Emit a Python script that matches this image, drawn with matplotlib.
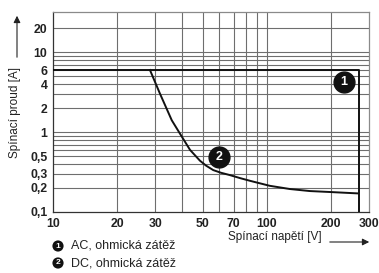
import matplotlib
matplotlib.use("Agg")
import matplotlib.pyplot as plt
from matplotlib.ticker import FixedLocator, NullFormatter

plt.rcParams["font.family"] = ["Liberation Sans", "DejaVu Sans"]

# AC, resistive load: 6 A up to ~268 V
ac_voltage = [10, 268, 268]
ac_current = [6, 6, 0.1]

# DC, resistive load
dc_voltage = [28.4, 31.6, 35.9, 39.2, 43.7, 48.6, 52.0, 56.1, 61.0, 67.1, 74.8, 83.3, 103, 128, 158.6, 197, 266]
dc_current = [6.0, 3.05, 1.41, 0.96, 0.60, 0.44, 0.38, 0.335, 0.31, 0.29, 0.266, 0.246, 0.213, 0.194, 0.183, 0.178, 0.171]

x_ticks = [10, 20, 30, 50, 70, 100, 200, 300]
x_ticklabels = ["10", "20", "30", "50", "70", "100", "200", "300"]
x_grid = [20, 30, 40, 50, 60, 70, 80, 90, 100, 200]
y_ticks = [0.1, 0.2, 0.3, 0.5, 1, 2, 4, 6, 10, 20]
y_ticklabels = ["0,1", "0,2", "0,3", "0,5", "1", "2", "4", "6", "10", "20"]
y_grid = [0.2, 0.3, 0.4, 0.5, 0.6, 0.7, 0.8, 0.9, 1, 2, 3, 4, 5, 6, 7, 8, 9, 10, 20]

labels = ["AC, ohmická zátěž", "DC, ohmická zátěž"]
badge_pos = [(229, 4.2), (60, 0.49)]

fig = plt.figure(figsize=(3.79, 2.73), dpi=100)
ax = fig.add_axes([53 / 379, 1 - 212 / 273, 316 / 379, 200 / 273])
ax.set_xscale("log")
ax.set_yscale("log")
ax.set_xlim(10, 300)
ax.set_ylim(0.1, 32)

for v in x_grid:
    ax.axvline(v, color="#6e6e6e", lw=0.8, zorder=1)
for v in y_grid:
    ax.axhline(v, color="#6e6e6e", lw=0.8, zorder=1)

ax.plot(ac_voltage, ac_current, color="#111111", lw=1.4, zorder=3)
ax.plot(dc_voltage, dc_current, color="#111111", lw=1.4, zorder=3,
        solid_joinstyle="round")

for i, (bx, by) in enumerate(badge_pos):
    ax.plot(bx, by, "o", ms=15, color="#111111", zorder=4)
    ax.text(bx, by, str(i + 1), color="white", fontsize=9, fontweight="bold",
            ha="center", va="center", zorder=5)

ax.xaxis.set_major_locator(FixedLocator(x_ticks))
ax.xaxis.set_minor_locator(FixedLocator([]))
ax.set_xticklabels(x_ticklabels)
ax.xaxis.set_minor_formatter(NullFormatter())
ax.yaxis.set_major_locator(FixedLocator(y_ticks))
ax.yaxis.set_minor_locator(FixedLocator([]))
ax.set_yticklabels(y_ticklabels)
ax.yaxis.set_minor_formatter(NullFormatter())
ax.tick_params(length=0, labelsize=8.8, pad=4)
for lab in ax.get_xticklabels() + ax.get_yticklabels():
    lab.set_fontweight("bold")
    lab.set_color("#222222")

for side in ["left", "bottom"]:
    ax.spines[side].set_color("#333333")
    ax.spines[side].set_linewidth(0.9)
for side in ["top", "right"]:
    ax.spines[side].set_color("#8a8a8a")
    ax.spines[side].set_linewidth(0.9)

# axis titles with arrows
fig.text(15 / 379, 1 - 112 / 273, "Spínací proud [A]", rotation=90, fontsize=8.5,
         ha="center", va="center", color="#222222")
fig.add_artist(matplotlib.patches.FancyArrowPatch(
    (17 / 379, 1 - 60 / 273), (17 / 379, 1 - 13 / 273), transform=fig.transFigure,
    arrowstyle="-|>,head_length=4,head_width=2", color="#222222", lw=0.8))
fig.text(275 / 379, 1 - 237 / 273, "Spínací napětí [V]", fontsize=8.5,
         ha="center", va="center", color="#222222")
fig.add_artist(matplotlib.patches.FancyArrowPatch(
    (327 / 379, 1 - 242 / 273), (372 / 379, 1 - 242 / 273), transform=fig.transFigure,
    arrowstyle="-|>,head_length=4,head_width=2", color="#222222", lw=0.8))

# legend
for i, (lab, yy) in enumerate(zip(labels, [246, 263])):
    fig.text(58 / 379, 1 - yy / 273, str(i + 1), fontsize=6, fontweight="bold",
             color="white", ha="center", va="center",
             bbox=dict(boxstyle="circle,pad=0.25", fc="#111111", ec="none"))
    fig.text(71 / 379, 1 - yy / 273, lab, fontsize=9, color="#222222",
             ha="left", va="center")

fig.savefig("out.png", dpi=100)
